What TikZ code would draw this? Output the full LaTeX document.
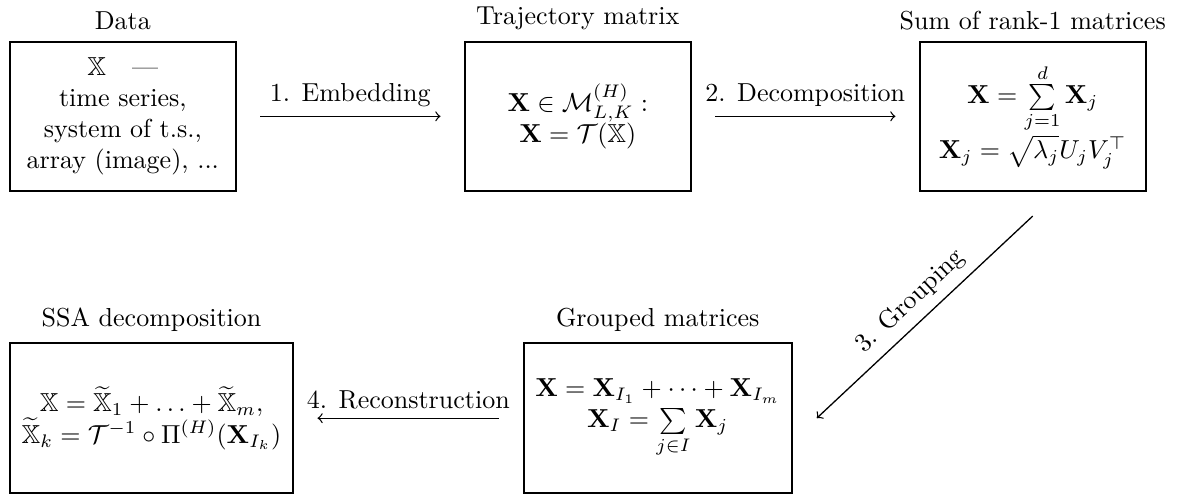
\documentclass[tikz,border=0pt]{standalone}
\usepackage{amsmath,amssymb}
\usetikzlibrary{positioning,calc}
\tikzset{
  box/.style={draw, thick, align=center, minimum width=86.8pt, minimum height=57.5pt, inner xsep=4.5pt, inner ysep=3pt},
  title/.style={inner sep=3pt},
  arrow/.style={->, line width=0.5pt, shorten <=9pt, shorten >=9pt}
}

\begin{document}
\begin{tikzpicture}[node distance=1pt]
  % top row
  \node[box] (data) {$\mathbb{X}$\quad---\\time series,\\system of t.s.,\\array (image), ...};
  \node[box, right=87.4pt of data] (traj) {$\mathbf{X}\in\mathcal{M}^{(H)}_{L,K}:$\\$\mathbf{X}=\mathcal{T}(\mathbb{X})$};
  \node[box, right=87.4pt of traj] (rank) {$\mathbf{X}=\sum\limits_{j=1}^{d}\mathbf{X}_j$\\$\mathbf{X}_j=\sqrt{\lambda_j}U_jV_j^{\top}$};
  % bottom row
  \node[box, below=57.8pt of data.south west, anchor=north west] (ssa) {$\mathbb{X}=\widetilde{\mathbb{X}}_1+\ldots+\widetilde{\mathbb{X}}_m,$\\$\widetilde{\mathbb{X}}_k=\mathcal{T}^{-1}\circ\Pi^{(H)}(\mathbf{X}_{I_k})$};
  \node[box, right=87.9pt of ssa] (grouped) {$\mathbf{X}=\mathbf{X}_{I_1}+\cdots+\mathbf{X}_{I_m}$\\$\mathbf{X}_I=\sum\limits_{j\in I}\mathbf{X}_j$};
  % titles
  \node[title, above=of data] (datatitle) {Data};
  \node[title, above=of traj] (trajtitle) {Trajectory matrix};
  \node[title, above=of rank] (ranktitle) {Sum of rank-1 matrices};
  \node[title, above=of ssa] (ssatitle) {SSA decomposition};
  \node[title, above=of grouped] (groupedtitle) {Grouped matrices};
  % steps
  \draw[arrow] (data) -- (traj) node[midway, above] (embed) {1. Embedding};
  \draw[arrow] (traj) -- (rank) node[midway, above] (decomp) {2. Decomposition};
  \draw[arrow, shorten <=0pt, shorten >=0pt] ([yshift=-9.2pt]rank.south) -- ([xshift=9.2pt]grouped.east) node[midway, above, sloped] (grouping) {3. Grouping};
  \draw[arrow] (grouped) -- (ssa) node[midway, above] (recon) {4. Reconstruction};
  \pgfresetboundingbox
  \path[use as bounding box] ($(data.north west)+(-3.45pt,15.6pt)$) rectangle ++(453.5pt,-190.4pt);
\end{tikzpicture}
\end{document}
